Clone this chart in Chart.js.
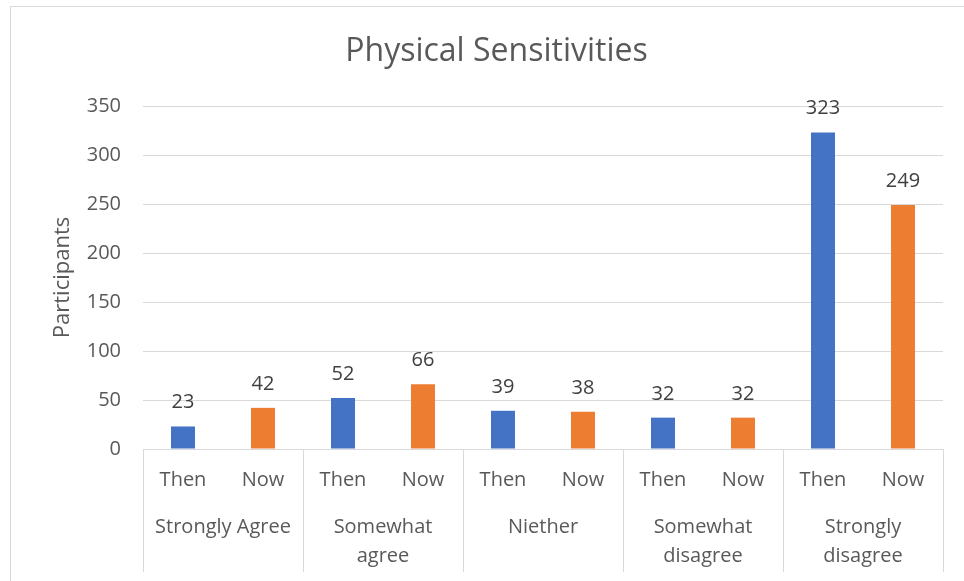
<!DOCTYPE html>
<html>
<head>
<meta charset="utf-8">
<script src="https://cdn.jsdelivr.net/npm/chart.js@4.4.1/dist/chart.umd.min.js"></script>
<style>
  html, body { margin: 0; padding: 0; background: #ffffff; }
  #wrap { position: relative; width: 964px; height: 581px; overflow: hidden; }
  #frame { position: absolute; left: 10px; top: 6px; width: 1000px; height: 1000px;
           border-top: 1px solid #d9d9d9; border-left: 1px solid #d9d9d9; }
  canvas { position: absolute; left: 0; top: 0; }
</style>
</head>
<body>
<div id="wrap">
  <div id="frame"></div>
  <canvas id="chart" width="964" height="581"></canvas>
</div>
<script>
// Response groups (each entry is the lines of its axis label)
const groups = [
  ['Strongly Agree'],
  ['Somewhat', 'agree'],
  ['Niether'],
  ['Somewhat', 'disagree'],
  ['Strongly', 'disagree']
];
const periods = ['Then', 'Now'];
const thenValues = [23, 52, 39, 32, 323];
const nowValues  = [42, 66, 38, 32, 249];
const yTicks = { min: 0, max: 350, step: 50 };

const FONT = "'Open Sans', 'DejaVu Sans', sans-serif";
const GRID = '#d9d9d9';
const TEXT = '#595959';
const THEN_COLOR = '#4472c4';
const NOW_COLOR = '#ed7d31';

// Flatten into one bar per (group, period)
const labels = [];
const values = [];
const colors = [];
groups.forEach((g, i) => {
  labels.push(periods[0]); values.push(thenValues[i]); colors.push(THEN_COLOR);
  labels.push(periods[1]); values.push(nowValues[i]);  colors.push(NOW_COLOR);
});

// Writes each bar's value above it
const valueLabels = {
  id: 'valueLabels',
  afterDatasetsDraw(chart) {
    const ctx = chart.ctx;
    const meta = chart.getDatasetMeta(0);
    const data = chart.data.datasets[0].data;
    ctx.save();
    ctx.font = `20px ${FONT}`;
    ctx.fillStyle = '#404040';
    ctx.textAlign = 'center';
    ctx.textBaseline = 'alphabetic';
    meta.data.forEach((bar, i) => {
      ctx.fillText(String(data[i]), bar.x, bar.y - 18);
    });
    ctx.restore();
  }
};

new Chart(document.getElementById('chart'), {
  type: 'bar',
  data: {
    labels: labels,
    datasets: [{
      data: values,
      backgroundColor: colors,
      borderWidth: 0,
      barPercentage: 0.3,
      categoryPercentage: 1.0
    }]
  },
  options: {
    responsive: false,
    animation: false,
    devicePixelRatio: 1,
    layout: { padding: { left: 50, right: 21, top: 0, bottom: 9 } },
    plugins: {
      legend: { display: false },
      tooltip: { enabled: false },
      title: {
        display: true,
        text: 'Physical Sensitivities',
        color: TEXT,
        font: { family: FONT, size: 32, weight: 'normal', lineHeight: 1.2 },
        padding: { top: 33, bottom: 34.6 }
      }
    },
    scales: {
      x: {
        offset: true,
        grid: {
          offset: true,
          drawOnChartArea: false,
          drawTicks: true,
          tickLength: 43,
          color: ctx => (ctx.index === undefined || ctx.index % 2 === 0) ? GRID : 'rgba(0,0,0,0)'
        },
        border: { display: true, color: GRID },
        ticks: {
          color: TEXT,
          padding: -24,
          maxRotation: 0,
          autoSkip: false,
          font: { family: FONT, size: 20, lineHeight: 1.2 }
        },
        afterFit: s => { s.height = 43; }
      },
      x2: {
        type: 'category',
        axis: 'x',
        position: 'bottom',
        weight: 1,
        labels: groups,
        offset: true,
        grid: {
          offset: true,
          drawOnChartArea: false,
          drawTicks: true,
          tickLength: 80,
          color: GRID
        },
        border: { display: false },
        ticks: {
          color: TEXT,
          padding: -59.5,
          maxRotation: 0,
          autoSkip: false,
          font: { family: FONT, size: 20, lineHeight: 1.45 }
        },
        afterFit: s => { s.height = 80; }
      },
      y: {
        min: yTicks.min,
        max: yTicks.max,
        grid: { color: GRID, drawTicks: false, lineWidth: 1 },
        border: { display: false },
        ticks: {
          stepSize: yTicks.step,
          color: TEXT,
          padding: 22,
          font: { family: FONT, size: 20 }
        },
        title: {
          display: true,
          text: 'Participants',
          color: TEXT,
          padding: 0,
          font: { family: FONT, size: 22, lineHeight: 1.2 }
        },
        afterFit: s => { s.width = 93; }
      }
    }
  },
  plugins: [valueLabels]
});
</script>
</body>
</html>
